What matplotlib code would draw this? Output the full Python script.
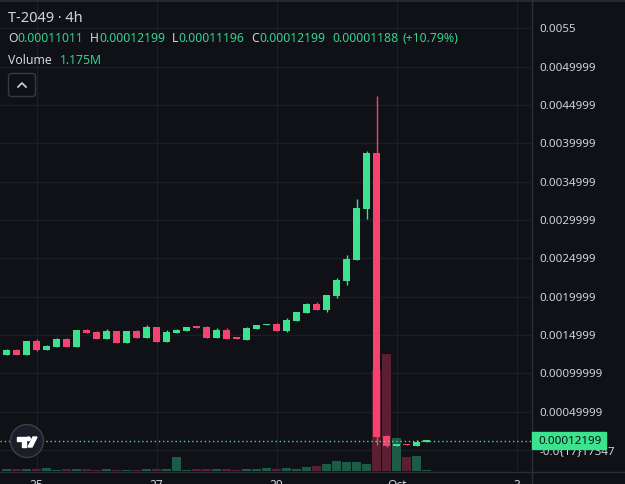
import matplotlib.pyplot as plt
import matplotlib.patches as mpatches
import matplotlib.transforms as mtransforms

# 4h candles, index 0 = 24 Sep 12:00
opens = [0.001239, 0.001304, 0.001239, 0.001421, 0.001304, 0.001343, 0.001447, 0.001343,
         0.001565, 0.001538, 0.001447, 0.001551, 0.001395, 0.001551, 0.001460, 0.001604,
         0.001408, 0.001525, 0.001551, 0.001604, 0.001604, 0.001460, 0.001565, 0.001460,
         0.001434, 0.001578, 0.001630, 0.001643, 0.001551, 0.001682, 0.001786, 0.001904,
         0.001825, 0.002008, 0.002203, 0.002477, 0.003142, 0.003872, 0.000183, 0.000052,
         0.000078, 0.000058, 0.00011011]
highs = [0.001317, 0.001317, 0.001421, 0.001447, 0.001373, 0.001464, 0.001464, 0.001565,
         0.001581, 0.001551, 0.001581, 0.001551, 0.001551, 0.001565, 0.001630, 0.001604,
         0.001565, 0.001581, 0.001604, 0.001604, 0.001617, 0.001591, 0.001591, 0.001460,
         0.001604, 0.001630, 0.001643, 0.001656, 0.001721, 0.001799, 0.001917, 0.001930,
         0.002021, 0.002243, 0.002542, 0.003272, 0.003898, 0.004615, 0.000196, 0.000078,
         0.000078, 0.000130, 0.00012199]
lows = [0.001239, 0.001239, 0.001239, 0.001295, 0.001304, 0.001343, 0.001343, 0.001343,
        0.001525, 0.001447, 0.001447, 0.001395, 0.001395, 0.001460, 0.001460, 0.001408,
        0.001408, 0.001525, 0.001551, 0.001595, 0.001460, 0.001460, 0.001447, 0.001451,
        0.001434, 0.001578, 0.001630, 0.001551, 0.001538, 0.001682, 0.001786, 0.001825,
        0.001803, 0.001986, 0.002155, 0.002477, 0.003012, 0.000065, 0.000039, 0.000052,
        0.000065, 0.000058, 0.00011011]
closes = [0.001304, 0.001239, 0.001421, 0.001304, 0.001360, 0.001447, 0.001343, 0.001565,
          0.001525, 0.001447, 0.001551, 0.001395, 0.001551, 0.001460, 0.001604, 0.001408,
          0.001538, 0.001565, 0.001604, 0.001595, 0.001460, 0.001565, 0.001447, 0.001451,
          0.001591, 0.001630, 0.001643, 0.001551, 0.001695, 0.001799, 0.001904, 0.001825,
          0.002021, 0.002216, 0.002490, 0.003155, 0.003872, 0.000169, 0.000052, 0.000078,
          0.000065, 0.000110, 0.00012199]
volumes = [2.3, 2.6, 2.2, 2.4, 3.5, 1.2, 2.5, 2.4, 2.2, 1.3, 2.5, 1.1, 1.3, 1.2, 2.4, 2.6,
           2.3, 16.8, 1.4, 2.5, 2.2, 2.6, 2.3, 1.2, 2.4, 2.5, 3.6, 2.3, 3.7, 2.6, 4.8, 6.1,
           8.4, 12.1, 10.9, 10.7, 8.3, 121.5, 140.8, 39.6, 16.9, 18.2, 1.175]  # millions

price_ticks = [0.0055, 0.005, 0.0045, 0.004, 0.0035, 0.003, 0.0025, 0.002, 0.0015,
               0.001, 0.0005, 0.0]
price_labels = ["0.0055", "0.0049999", "0.0044999", "0.0039999", "0.0034999", "0.0029999",
                "0.0024999", "0.0019999", "0.0014999", "0.00099999", "0.00049999",
                "-0.0{17}17347"]
date_ticks = [3, 15, 27, 39, 51]
date_labels = ["25", "27", "29", "Oct", "3"]

BG = "#0f1117"
GRID = "#1c1e25"
SEP = "#2a2d35"
UP = "#3be38e"
DOWN = "#f7416e"
UP_VOL = "#1e5b45"
DOWN_VOL = "#5a1f33"
TXT = "#d1d4dc"
GREEN_TXT = "#31d48c"

W, H = 625, 484
fig = plt.figure(figsize=(W / 100, H / 100), dpi=100)
fig.patch.set_facecolor(BG)
plt.rcParams["font.family"] = ["Noto Sans", "DejaVu Sans"]

# pixel coords, y from top
px = mtransforms.Affine2D().scale(1 / W, -1 / H).translate(0, 1) + fig.transFigure

ax = fig.add_axes([0, 13 / H, 532 / W, 469 / H])
ax.set_facecolor(BG)
for s in ax.spines.values():
    s.set_visible(False)

idx = list(range(len(opens)))

# volume drawn in axes-fraction y, scaled
vol_top = 563.0
vol_trans = mtransforms.blended_transform_factory(
    ax.transData, mtransforms.Affine2D().scale(1, 1 / vol_top) + ax.transAxes)
vcols = [UP_VOL if c >= o else DOWN_VOL for o, c in zip(opens, closes)]
ax.bar(idx, volumes, width=0.9, color=vcols, transform=vol_trans, zorder=1)

# candles
min_body = 0.000018
for i in idx:
    o, h, l, c = opens[i], highs[i], lows[i], closes[i]
    col = UP if c >= o else DOWN
    ax.vlines(i, l, h, color=col, lw=1.0, zorder=2)
    ax.bar(i, max(abs(c - o), min_body), bottom=min(o, c), width=0.7, color=col, zorder=3)

ax.axhline(closes[-1], color=UP, lw=1, ls=(0, (1, 2)), zorder=4)

ax.set_xlim(-0.65, 52.55)
ax.set_ylim(-0.000274, 0.005841)
ax.set_yticks(price_ticks)
ax.set_yticklabels(price_labels)
ax.yaxis.tick_right()
ax.set_xticks(date_ticks)
ax.set_xticklabels(date_labels)
ax.tick_params(axis="y", length=0, pad=5.2, labelsize=8.3, labelcolor=TXT)
ax.tick_params(axis="x", length=0, pad=6, labelsize=8.6, labelcolor=TXT)
ax.set_axisbelow(True)
ax.grid(True, color=GRID, lw=1)

# separators
fig.add_artist(plt.Line2D([532, 532], [0, H], transform=px, color=SEP, lw=1))
fig.add_artist(plt.Line2D([0, W], [471.5, 471.5], transform=px, color=SEP, lw=1))
fig.add_artist(plt.Line2D([0, W], [1, 1], transform=px, color=SEP, lw=1.2))

# last price label
fig.add_artist(mpatches.Rectangle((532, 432), 74, 17, transform=px, color=UP, zorder=5))
fig.text(538, 441, "0.00012199", transform=px, color="#0b0d12", fontsize=8.3,
         va="center", ha="left", zorder=6)

# header
t = fig.text(8, 18, "T-2049 · 4h", transform=px, color=TXT, fontsize=10.5, va="center")


def chain(x, y, parts, size):
    prev = fig.text(x, y, parts[0][0], transform=px, color=parts[0][1], fontsize=size,
                    va="center")
    for s, col, gap in parts[1:]:
        prev = ax.annotate(s, xy=(1, 0), xycoords=prev, xytext=(gap, 0),
                           textcoords="offset pixels", color=col, fontsize=size,
                           va="bottom", ha="left", annotation_clip=False)


chain(8, 39, [("O", TXT), ("0.00011011", GREEN_TXT, 0), ("H", TXT, 7),
              ("0.00012199", GREEN_TXT, 0), ("L", TXT, 7), ("0.00011196", GREEN_TXT, 0),
              ("C", TXT, 7), ("0.00012199", GREEN_TXT, 0), ("0.00001188", GREEN_TXT, 7),
              ("(+10.79%)", GREEN_TXT, 4)], 8.8)
chain(8, 60, [("Volume", TXT), ("1.175M", GREEN_TXT, 8)], 8.8)

# collapse button
fig.add_artist(mpatches.FancyBboxPatch((8.5, 73.5), 27, 23, boxstyle="round,pad=0,rounding_size=3",
                                       transform=px, fc=BG, ec="#363a45", lw=1))
fig.add_artist(plt.Line2D([18, 22, 26], [87, 83, 87], transform=px, color=TXT, lw=1.2))

# watermark logo
fig.add_artist(mpatches.Circle((27, 441), 16.5, transform=px, fc="#1b1e27", ec="#3b3f4a",
                               lw=1, zorder=6))
fig.add_artist(mpatches.Polygon([(17, 437), (26, 437), (26, 447), (22, 447), (22, 440.5),
                                 (17, 440.5)], transform=px, color="white", zorder=7))
fig.add_artist(mpatches.Circle((28.5, 438.8), 1.8, transform=px, color="white", zorder=7))
fig.add_artist(mpatches.Polygon([(33, 437), (37, 437), (32, 447), (28, 447)],
                                transform=px, color="white", zorder=7))

fig.savefig("out.png", dpi=100, facecolor=BG)
